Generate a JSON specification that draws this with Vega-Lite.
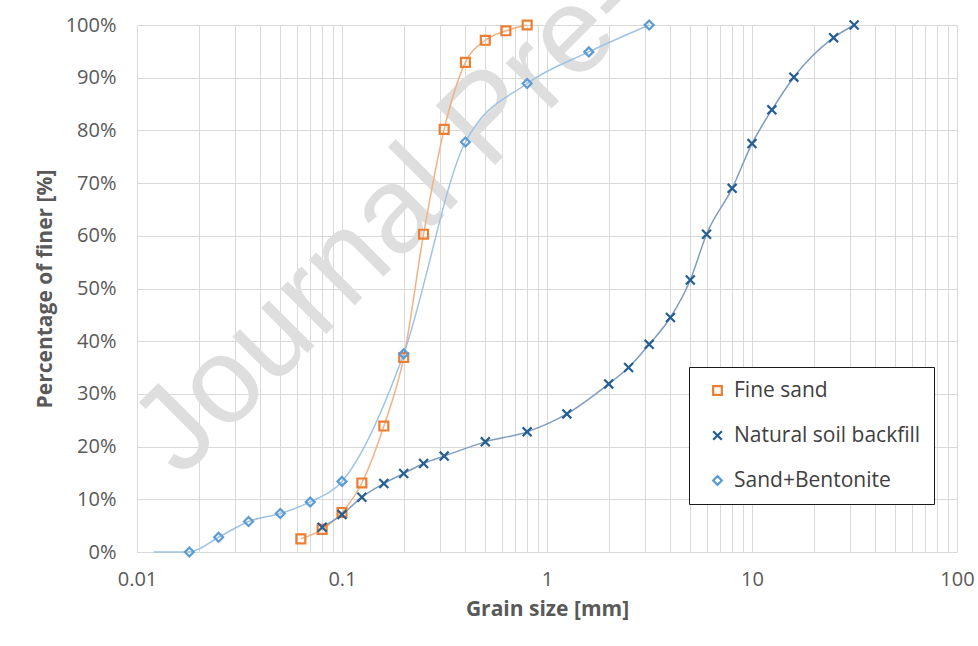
{
  "$schema": "https://vega.github.io/schema/vega-lite/v6.json",
  "width": 820,
  "height": 527,
  "autosize": {"type": "none"},
  "padding": {"left": 137, "top": 25, "right": 21, "bottom": 94},
  "background": "white",
  "config": {
    "view": {"stroke": null},
    "font": "Open Sans",
    "axis": {
      "ticks": false,
      "domain": false,
      "grid": true,
      "gridColor": "#d9d9d9",
      "gridWidth": 1,
      "labelColor": "#595959",
      "labelFont": "Open Sans",
      "labelFontSize": 20,
      "titleColor": "#595959",
      "titleFont": "Open Sans",
      "titleFontSize": 21,
      "titleFontWeight": "bold"
    }
  },
  "datasets": {
    "grading": [
      {"s": "Fine sand", "d": 0.063, "p": 2.5},
      {"s": "Fine sand", "d": 0.08, "p": 4.3},
      {"s": "Fine sand", "d": 0.1, "p": 7.5},
      {"s": "Fine sand", "d": 0.125, "p": 13.1},
      {"s": "Fine sand", "d": 0.16, "p": 23.9},
      {"s": "Fine sand", "d": 0.2, "p": 36.9},
      {"s": "Fine sand", "d": 0.25, "p": 60.3},
      {"s": "Fine sand", "d": 0.315, "p": 80.2},
      {"s": "Fine sand", "d": 0.4, "p": 92.9},
      {"s": "Fine sand", "d": 0.5, "p": 97.1},
      {"s": "Fine sand", "d": 0.63, "p": 98.9},
      {"s": "Fine sand", "d": 0.8, "p": 100},
      {"s": "Natural soil backfill", "d": 0.08, "p": 4.7},
      {"s": "Natural soil backfill", "d": 0.1, "p": 7.1},
      {"s": "Natural soil backfill", "d": 0.125, "p": 10.4},
      {"s": "Natural soil backfill", "d": 0.16, "p": 13.0},
      {"s": "Natural soil backfill", "d": 0.2, "p": 14.9},
      {"s": "Natural soil backfill", "d": 0.25, "p": 16.8},
      {"s": "Natural soil backfill", "d": 0.315, "p": 18.2},
      {"s": "Natural soil backfill", "d": 0.5, "p": 20.9},
      {"s": "Natural soil backfill", "d": 0.8, "p": 22.8},
      {"s": "Natural soil backfill", "d": 1.25, "p": 26.2},
      {"s": "Natural soil backfill", "d": 2, "p": 31.9},
      {"s": "Natural soil backfill", "d": 2.5, "p": 35.0},
      {"s": "Natural soil backfill", "d": 3.15, "p": 39.4},
      {"s": "Natural soil backfill", "d": 4, "p": 44.5},
      {"s": "Natural soil backfill", "d": 5, "p": 51.6},
      {"s": "Natural soil backfill", "d": 6, "p": 60.3},
      {"s": "Natural soil backfill", "d": 8, "p": 69.0},
      {"s": "Natural soil backfill", "d": 10, "p": 77.5},
      {"s": "Natural soil backfill", "d": 12.5, "p": 83.9},
      {"s": "Natural soil backfill", "d": 16, "p": 90.1},
      {"s": "Natural soil backfill", "d": 25, "p": 97.6},
      {"s": "Natural soil backfill", "d": 31.5, "p": 100},
      {"s": "Sand+Bentonite", "d": 0.012, "p": 0},
      {"s": "Sand+Bentonite", "d": 0.018, "p": 0},
      {"s": "Sand+Bentonite", "d": 0.025, "p": 2.8},
      {"s": "Sand+Bentonite", "d": 0.035, "p": 5.8},
      {"s": "Sand+Bentonite", "d": 0.05, "p": 7.3},
      {"s": "Sand+Bentonite", "d": 0.07, "p": 9.5},
      {"s": "Sand+Bentonite", "d": 0.1, "p": 13.4},
      {"s": "Sand+Bentonite", "d": 0.2, "p": 37.6},
      {"s": "Sand+Bentonite", "d": 0.4, "p": 77.8},
      {"s": "Sand+Bentonite", "d": 0.8, "p": 88.9},
      {"s": "Sand+Bentonite", "d": 1.6, "p": 94.9},
      {"s": "Sand+Bentonite", "d": 3.15, "p": 100}
    ],
    "watermark": [
      {"label": "Journal Pre-", "d": 0.0164, "p": 13.85}
    ]
  },
  "layer": [
    {
      "data": {"name": "watermark"},
      "mark": {"type": "text", "font": "Liberation Sans", "fontSize": 122, "angle": -45, "align": "left", "baseline": "alphabetic", "color": "#dedede"},
      "encoding": {
        "x": {"field": "d", "type": "quantitative", "scale": {"type": "log", "domain": [0.01, 100], "nice": false}},
        "y": {"field": "p", "type": "quantitative", "scale": {"domain": [0, 100], "nice": false}},
        "text": {"field": "label"}
      }
    },
    {
      "data": {"name": "grading"},
      "transform": [{"filter": "datum.s === 'Fine sand'"}],
      "mark": {"type": "line", "interpolate": "monotone", "strokeWidth": 1.5, "color": "#F4B183"},
      "encoding": {
        "x": {"field": "d", "type": "quantitative"},
        "y": {"field": "p", "type": "quantitative"}
      }
    },
    {
      "data": {"name": "grading"},
      "transform": [{"filter": "datum.s === 'Natural soil backfill'"}],
      "mark": {"type": "line", "interpolate": "monotone", "strokeWidth": 1.5, "color": "#7F9DC0"},
      "encoding": {
        "x": {"field": "d", "type": "quantitative"},
        "y": {"field": "p", "type": "quantitative"}
      }
    },
    {
      "data": {"name": "grading"},
      "transform": [{"filter": "datum.s === 'Sand+Bentonite'"}],
      "mark": {"type": "line", "interpolate": "monotone", "strokeWidth": 1.5, "color": "#9DC3E6"},
      "encoding": {
        "x": {"field": "d", "type": "quantitative"},
        "y": {"field": "p", "type": "quantitative"}
      }
    },
    {
      "data": {"name": "grading"},
      "transform": [{"filter": "datum.d > 0.015"}],
      "mark": {"type": "point", "filled": false, "strokeWidth": 2.2, "size": 80, "opacity": 1},
      "encoding": {
        "x": {
          "field": "d",
          "type": "quantitative",
          "axis": {
            "title": "Grain size [mm]",
            "values": [0.01, 0.02, 0.03, 0.04, 0.05, 0.06, 0.07, 0.08, 0.09, 0.1, 0.2, 0.3, 0.4, 0.5, 0.6, 0.7, 0.8, 0.9, 1, 2, 3, 4, 5, 6, 7, 8, 9, 10, 20, 30, 40, 50, 60, 70, 80, 90, 100],
            "labelExpr": "indexof(['0.01','0.1','1','10','100'], toString(datum.value)) >= 0 ? toString(datum.value) : ''",
            "labelPadding": 17,
            "titlePadding": 9,
            "labelFlush": false,
            "labelOverlap": false
          }
        },
        "y": {
          "field": "p",
          "type": "quantitative",
          "axis": {
            "title": "Percentage of finer [%]",
            "values": [0, 10, 20, 30, 40, 50, 60, 70, 80, 90, 100],
            "labelExpr": "datum.value + '%'",
            "labelPadding": 21,
            "titlePadding": 10
          }
        },
        "color": {
          "field": "s",
          "type": "nominal",
          "scale": {"domain": ["Fine sand", "Natural soil backfill", "Sand+Bentonite"], "range": ["#ED7D31", "#255E91", "#5B9BD5"]},
          "legend": {
            "title": null,
            "orient": "none",
            "legendX": 552,
            "legendY": 342,
            "padding": 13,
            "symbolOffset": 5,
            "labelOffset": 6,
            "rowPadding": 23,
            "labelFontSize": 21,
            "labelFont": "Open Sans",
            "labelColor": "#404040",
            "strokeColor": "#1a1a1a",
            "fillColor": "white",
            "symbolSize": 75,
            "symbolStrokeWidth": 2.2,
            "labelLimit": 400
          }
        },
        "shape": {
          "field": "s",
          "type": "nominal",
          "scale": {"domain": ["Fine sand", "Natural soil backfill", "Sand+Bentonite"], "range": ["square", "M-1,-1L1,1M-1,1L1,-1", "diamond"]}
        }
      }
    }
  ]
}
